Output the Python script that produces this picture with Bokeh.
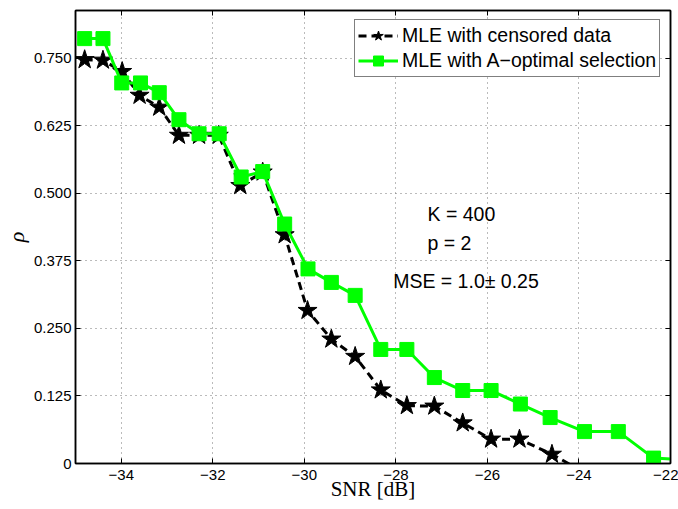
from bokeh.plotting import figure
from bokeh.models import (Range1d, FixedTicker, LinearAxis, Label, Legend, LegendItem,
                          CustomLabelingPolicy)
from bokeh.embed import file_html
from bokeh.resources import INLINE

# ---- data ----
snr_censored = [-34.80, -34.40, -33.98, -33.60, -33.17, -32.74, -32.30, -31.87, -31.40, -30.91,
                -30.43, -29.93, -29.41, -28.89, -28.33, -27.76, -27.16, -26.54, -25.92, -25.30,
                -24.59, -23.60]
rho_censored = [0.747, 0.746, 0.725, 0.681, 0.659, 0.607, 0.607, 0.607, 0.514, 0.539,
                0.423, 0.283, 0.230, 0.198, 0.136, 0.107, 0.106, 0.075, 0.045, 0.045,
                0.017, -0.030]

snr_aopt = [-34.80, -34.40, -33.99, -33.58, -33.17, -32.74, -32.30, -31.86, -31.38, -30.91,
            -30.43, -29.92, -29.41, -28.89, -28.33, -27.76, -27.16, -26.54, -25.92, -25.28,
            -24.63, -23.88, -23.14, -22.37, -21.70]
rho_aopt = [0.786, 0.786, 0.704, 0.704, 0.686, 0.636, 0.610, 0.610, 0.530, 0.540,
            0.443, 0.360, 0.335, 0.311, 0.211, 0.211, 0.159, 0.135, 0.135, 0.110,
            0.085, 0.059, 0.059, 0.010, 0.007]

x_ticks = [-34, -32, -30, -28, -26, -24, -22]
x_tick_labels = ["\u221234", "\u221232", "\u221230", "\u221228", "\u221226", "\u221224", "\u221222"]
y_ticks = [0, 0.125, 0.25, 0.375, 0.5, 0.625, 0.75]
y_tick_labels = ["0", "0.125", "0.250", "0.375", "0.500", "0.625", "0.750"]

series_names = ["MLE with censored data", "MLE with A\u2212optimal selection"]
annotations = ["K = 400", "p = 2", "MSE = 1.0\u00b1 0.25"]

SANS = "Liberation Sans"
SERIF = "Liberation Serif"

p = figure(width=678, height=509, output_backend="svg", toolbar_location=None,
           x_range=Range1d(-35, -22), y_range=Range1d(0, 0.838),
           min_border_left=75, min_border_right=8, min_border_top=10, min_border_bottom=46)
p.background_fill_color = "white"
p.border_fill_color = "white"
p.outline_line_color = "black"
p.outline_line_width = 1.5

# extra axes for inward ticks on top and right (box style); their labels are all filtered out
no_labels = CustomLabelingPolicy(code="""
    const n = indices.size
    for (let i = 0; i < n; i++) { indices.unset(i) }
    return indices
""")
top_axis = LinearAxis(major_label_policy=no_labels, major_label_standoff=0,
                      major_label_text_font_size="1px")
right_axis = LinearAxis(major_label_policy=no_labels, major_label_standoff=0,
                        major_label_text_font_size="1px")
p.add_layout(top_axis, "above")
p.add_layout(right_axis, "right")

for ax in p.xaxis:
    ax.ticker = FixedTicker(ticks=x_ticks)
for ax in p.yaxis:
    ax.ticker = FixedTicker(ticks=y_ticks)
for ax in list(p.xaxis) + list(p.yaxis):
    ax.major_tick_in = 5
    ax.major_tick_out = 0
    ax.minor_tick_line_color = None
    ax.axis_line_color = "black"
    ax.axis_line_width = 1.5
    ax.major_tick_line_color = "black"
    ax.major_tick_line_width = 1
    ax.major_label_text_font = SANS
    ax.major_label_text_color = "black"

bx = p.below[0]
bx.major_label_overrides = {t: l for t, l in zip(x_ticks, x_tick_labels)}
bx.major_label_text_font_size = "15px"
bx.major_label_standoff = 6
bx.axis_label = "SNR [dB]"
bx.axis_label_text_font = SERIF
bx.axis_label_text_font_style = "normal"
bx.axis_label_text_font_size = "21px"
bx.axis_label_text_color = "black"
bx.axis_label_standoff = -6

ly = p.left[0]
ly.major_label_overrides = {t: l for t, l in zip(y_ticks, y_tick_labels)}
ly.major_label_text_font_size = "15px"
ly.major_label_standoff = 4
ly.axis_label = "\u03c1"
ly.axis_label_text_font = SERIF
ly.axis_label_text_font_style = "italic"
ly.axis_label_text_font_size = "22px"
ly.axis_label_text_color = "black"
ly.axis_label_standoff = 2

p.xgrid.ticker = FixedTicker(ticks=x_ticks)
p.ygrid.ticker = FixedTicker(ticks=y_ticks)
for g in (p.xgrid, p.ygrid):
    g.grid_line_color = "#777777"
    g.grid_line_dash = "1 4"
    g.grid_line_width = 1

# series 1: censored data (black dashed, stars)
l1 = p.line(snr_censored, rho_censored, line_color="black", line_width=3, line_dash="8 5")
s1 = p.scatter(snr_censored, rho_censored, marker="star", size=20,
               fill_color="black", line_color="black")
# series 2: A-optimal selection (green, squares)
l2 = p.line(snr_aopt, rho_aopt, line_color="#00ff00", line_width=3)
s2 = p.scatter(snr_aopt, rho_aopt, marker="square", size=14,
               fill_color="#00ff00", line_color="#00ff00")

legend = Legend(items=[LegendItem(label=series_names[0], renderers=[l1, s1]),
                       LegendItem(label=series_names[1], renderers=[l2, s2])],
                location=(279, 386))
legend.label_text_font = SANS
legend.label_text_font_size = "19.5px"
legend.label_text_color = "black"
legend.border_line_color = "black"
legend.border_line_width = 1
legend.background_fill_color = "white"
legend.background_fill_alpha = 1
legend.padding = 3
legend.spacing = 0
legend.glyph_width = 40
legend.glyph_height = 25
legend.label_standoff = 4
legend.margin = 0
p.add_layout(legend, "center")

ann_pos = [(-27.31, 0.462), (-27.31, 0.407), (-28.06, 0.337)]
for txt, (ax_, ay_) in zip(annotations, ann_pos):
    p.add_layout(Label(x=ax_, y=ay_, text=txt, text_font=SANS, text_font_size="19.5px",
                       text_color="black", text_baseline="middle", text_align="left"))

open("out.html", "w").write(file_html(p, INLINE))
